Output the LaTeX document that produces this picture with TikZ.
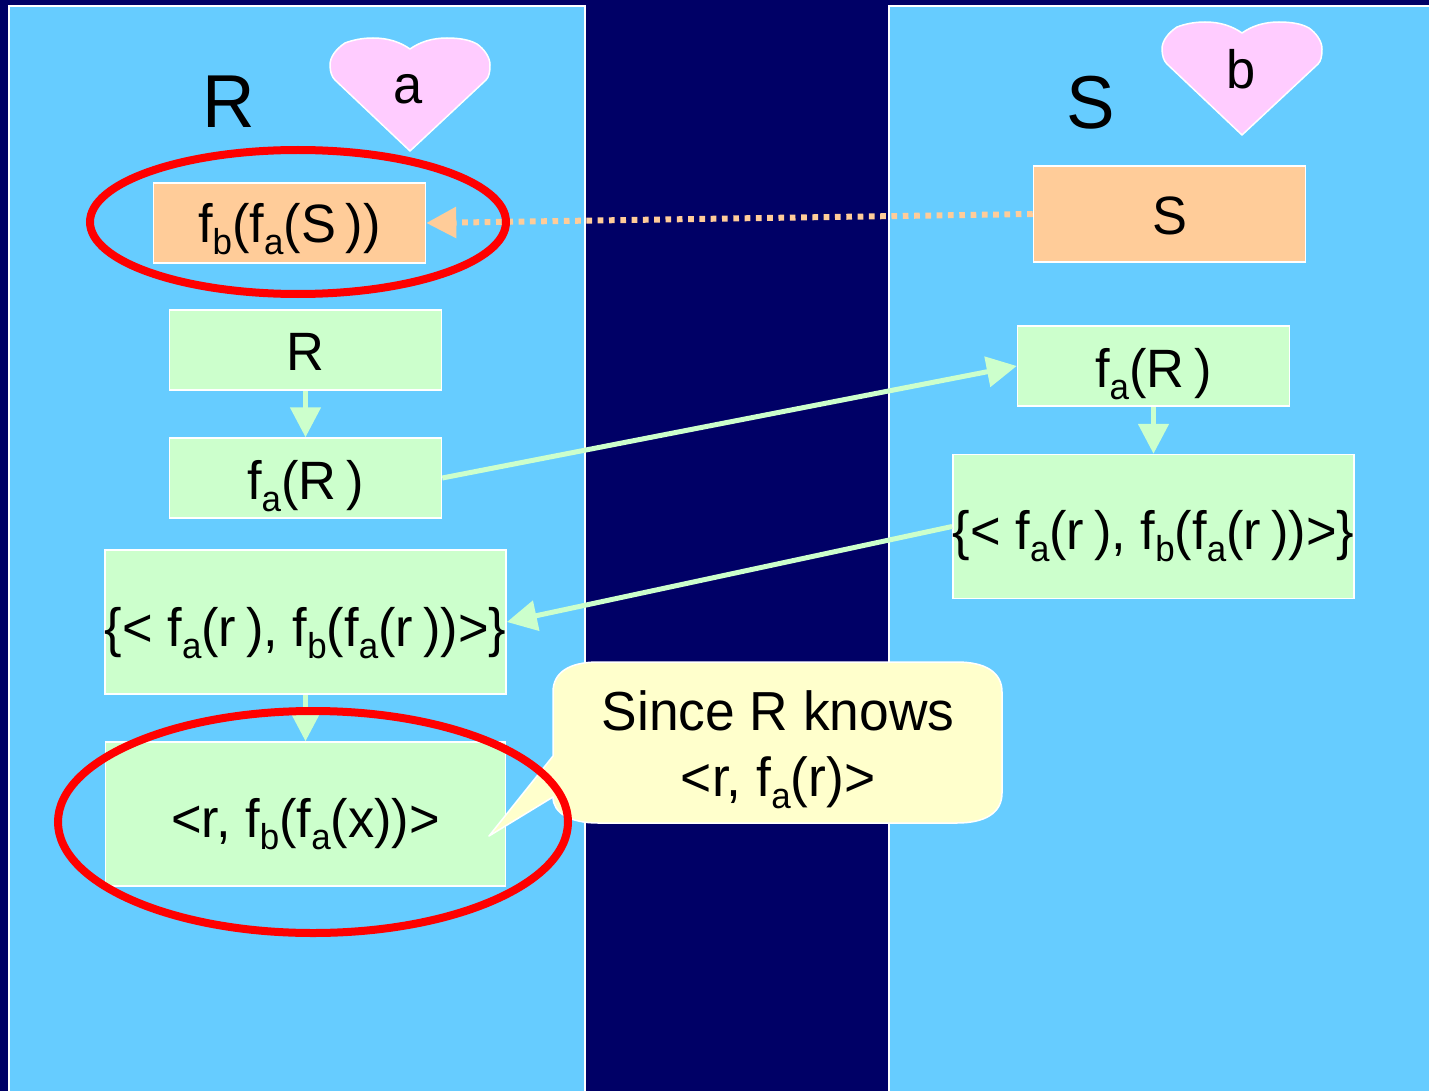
\documentclass[tikz,border=0pt]{standalone}
\usepackage{fontspec}
\setmainfont[FakeStretch=0.97]{Liberation Sans}
\usetikzlibrary{arrows.meta,shapes.geometric}
\definecolor{navybg}{HTML}{000066}
\definecolor{panelblue}{HTML}{66CCFF}
\definecolor{boxgreen}{HTML}{CCFFCC}
\definecolor{boxorange}{HTML}{FFCC99}
\definecolor{heartpink}{HTML}{FFCCFF}
\definecolor{noteyellow}{HTML}{FFFFCC}
\newcommand{\subx}[1]{\raisebox{-12pt}{\fontsize{36}{36}\selectfont #1}}
\newcommand{\tn}{\kern10pt}
\newcommand{\heartshape}[1]{%
  \draw[heart,shift={#1}] (410,49)
    .. controls (420,42) and (432,38) .. (447,38)
    .. controls (460,38) and (470,40) .. (477,44)
    .. controls (484,49) and (490,57) .. (490,65)
    .. controls (490,72) and (489,77) .. (486,80)
    -- (410,151) -- (335,80)
    .. controls (332,77) and (330,72) .. (330,65)
    .. controls (330,57) and (336,49) .. (345,43)
    .. controls (353,40) and (362,38) .. (373,38)
    .. controls (388,38) and (400,42) .. (410,49) -- cycle;}
\tikzset{
  panel/.style={fill=panelblue,draw=white,line width=1.5pt},
  heart/.style={fill=heartpink,draw=white,line width=1.5pt,line join=round},
  bl/.style={text height=2*#1 pt,text depth=0pt},
  txt/.style={font=\fontsize{54}{64}\selectfont,text=black,inner sep=0pt},
  greenbox/.style={txt,rectangle,fill=boxgreen,draw=white,line width=1.5pt,inner sep=0pt},
  orangebox/.style={txt,rectangle,fill=boxorange,draw=white,line width=1.5pt,inner sep=0pt},
  flow/.style={draw=boxgreen,line width=5pt,-{Triangle[length=30pt,width=30pt,fill=boxgreen]}},
  reply/.style={draw=boxorange,line width=6pt,dash pattern=on 5.7pt off 5.6pt,-{Triangle[length=30pt,width=30pt,fill=boxorange]}},
  mark ring/.style={ellipse,draw=red,line width=8pt,inner sep=0pt,outer sep=0pt,fill=none},
  note/.style={fill=noteyellow,draw=white,line width=1.5pt,line join=round},
}
\begin{document}
\begin{tikzpicture}[x=1pt,y=-1pt]
\useasboundingbox (0,0) rectangle (1429,1091);
\clip (0,0) rectangle (1429,1091);
\fill[navybg] (0,0) rectangle (1429,1091);
\draw[panel] (9,6) rectangle (585,1110);
\draw[panel] (889,6) rectangle (1450,1110);
\heartshape{(0,0)}
\heartshape{(832,-16)}
\node[txt,font=\fontsize{75}{80}\selectfont] (titleR) at (229,102) {R};
\node[txt,font=\fontsize{75}{80}\selectfont] (titleS) at (1091,103) {S};
\node[txt] (keyA) at (408.5,89) {a};
\node[txt] (keyB) at (1241,69) {b};
\node[orangebox,minimum width=272pt,minimum height=80pt,bl=20] (enc) at (289.5,223) {f\subx{b}(f\subx{a}(S\tn))};
\node[orangebox,minimum width=272pt,minimum height=96pt,bl=21] (sbox) at (1169.5,214) {S};
\node[greenbox,minimum width=272pt,minimum height=80pt,bl=20] (rbox) at (305.5,350) {R};
\node[greenbox,minimum width=272pt,minimum height=80pt,bl=21] (farl) at (305.5,478) {f\subx{a}(R\tn)};
\node[greenbox,minimum width=272pt,minimum height=80pt,bl=21] (farr) at (1153.5,366) {f\subx{a}(R\tn)};
\node[greenbox,minimum width=400pt,minimum height=144pt,bl=23] (setr) at (1153.5,526.5) {\{< f\subx{a}(r\tn), f\subx{b}(f\subx{a}(r\tn))>\}};
\node[greenbox,minimum width=400pt,minimum height=144pt,bl=24] (setl) at (305.5,622) {\{< f\subx{a}(r\tn), f\subx{b}(f\subx{a}(r\tn))>\}};
\node[greenbox,minimum width=400pt,minimum height=144pt,bl=23] (res) at (305.5,814) {<r, f\subx{b}(f\subx{a}(x))>};
\draw[flow] (rbox.south) -- (farl.north);
\draw[flow] (farr.south) -- (setr.north);
\draw[flow] (setl.south) -- (res.north);
\draw[flow] (farl.east) -- (farr.west);
\draw[flow] (setr.west) -- (setl.east);
\draw[reply] (sbox.west) -- (enc.east);
\draw[note] (598,662) -- (957,662)
  .. controls (985,662) and (1002,672) .. (1002,692)
  -- (1002,793)
  .. controls (1002,813) and (985,823) .. (957,823)
  -- (598,823)
  .. controls (570,823) and (553,813) .. (553,797)
  -- (489,836) -- (553,756) -- (553,692)
  .. controls (553,672) and (570,662) .. (598,662) -- cycle;
\node[txt,align=center,font=\fontsize{55}{66}\selectfont] (since) at (778,750) {Since R knows\\<r, f\subx{a}(r)>};
\node[mark ring,minimum width=416pt,minimum height=144pt] (ringtop) at (298,222) {};
\node[mark ring,minimum width=510pt,minimum height=222pt] (ringbot) at (313,822) {};
\end{tikzpicture}
\end{document}
